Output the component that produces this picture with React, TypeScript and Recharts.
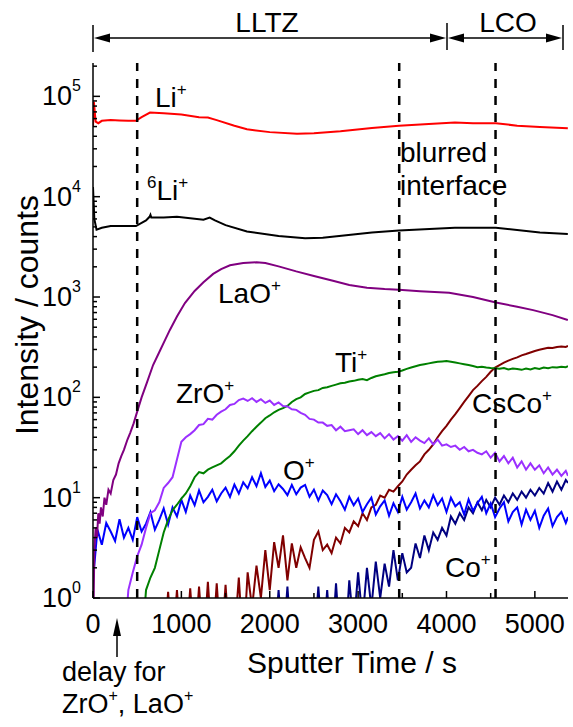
import React from 'react';
import { LineChart, Line, XAxis, YAxis, ReferenceLine } from 'recharts';

// Shared time grid (s) for the noisy series
const TIME = [
  0, 50, 100, 150, 200, 250, 300, 350, 400, 450,
  500, 550, 600, 650, 700, 750, 800, 850, 900, 950,
  1000, 1050, 1100, 1150, 1200, 1250, 1300, 1350, 1400, 1450,
  1500, 1550, 1600, 1650, 1700, 1750, 1800, 1850, 1900, 1950,
  2000, 2050, 2100, 2150, 2200, 2250, 2300, 2350, 2400, 2450,
  2500, 2550, 2600, 2650, 2700, 2750, 2800, 2850, 2900, 2950,
  3000, 3050, 3100, 3150, 3200, 3250, 3300, 3350, 3400, 3450,
  3500, 3550, 3600, 3650, 3700, 3750, 3800, 3850, 3900, 3950,
  4000, 4050, 4100, 4150, 4200, 4250, 4300, 4350, 4400, 4450,
  4500, 4550, 4600, 4650, 4700, 4750, 4800, 4850, 4900, 4950,
  5000, 5050, 5100, 5150, 5200, 5250, 5300, 5350, 5375,
];

const O_PLUS = [
  1.5, 4.8, 3.4, 5.6, 4.6, 3.7, 6.1, 4.0, 5.0, 3.8,
  6.4, 4.6, 5.5, 7.2, 4.8, 6.0, 7.8, 5.4, 8.0, 6.5,
  9.5, 7.2, 10.5, 8.4, 11.8, 9.0, 10.2, 12.0, 9.2, 11.0,
  12.6, 10.2, 13.5, 11.0, 14.2, 12.4, 16.0, 13.0, 17.5, 12.8,
  14.8, 11.6, 13.6, 12.2, 10.6, 13.4, 10.8, 12.6, 13.4, 10.2,
  12.0, 9.4, 11.8, 10.6, 8.6, 10.8, 9.2, 7.6, 10.2, 8.4,
  9.8, 7.2, 8.6, 10.0, 6.8, 8.2, 9.4, 6.6, 8.8, 7.2,
  10.2, 7.6, 9.0, 11.0, 7.8, 9.4, 8.0, 10.6, 8.4, 9.8,
  7.2, 10.0, 8.2, 9.0, 6.8, 9.6, 7.4, 8.8, 10.2, 7.0,
  8.8, 6.4, 7.8, 9.0, 5.8, 7.2, 8.0, 5.4, 7.6, 6.0,
  7.4, 5.0, 6.6, 7.8, 5.2, 6.4, 7.2, 5.6, 6.4,
];

const CO_PLUS = [
  null, null, null, null, null, null, null, null, null, null,
  null, null, null, null, null, null, null, null, null, null,
  null, null, null, null, null, null, null, null, null, null,
  null, null, null, null, null, null, null, null, null, null,
  0.3, 0.3, 1.2, 0.3, 1.3, 0.3, 0.3, 0.3, 0.3, 0.3,
  0.3, 1.3, 0.3, 1.2, 0.3, 1.4, 0.3, 0.3, 1.5, 0.5,
  1.8, 0.6, 2.0, 0.8, 2.3, 1.0, 2.2, 1.3, 3.0, 1.5,
  2.8, 1.8, 2.0, 3.5, 2.5, 4.2, 3.0, 4.5, 3.8, 5.0,
  4.2, 6.5, 5.5, 7.0, 6.0, 8.0, 7.0, 9.0, 7.5, 9.5,
  8.0, 10, 8.5, 10.5, 9.0, 11, 9.5, 11.5, 10, 12,
  10.5, 12.5, 11, 14, 11.5, 14.5, 12, 15, 14,
];

const CSCO_PLUS = [
  null, null, null, null, null, null, null, null, null, null,
  null, null, null, null, null, null, 0.3, 1.15, 0.3, 1.2,
  0.3, 0.3, 1.25, 0.3, 1.3, 0.3, 1.45, 0.3, 1.4, 0.3,
  1.35, 0.3, 0.4, 1.6, 0.3, 1.8, 0.8, 2.1, 1.0, 3.0,
  1.2, 3.6, 2.0, 4.2, 1.5, 3.5, 2.0, 3.2, 2.5, 2.0,
  3.8, 4.6, 3.0, 3.4, 2.8, 4.0, 3.5, 5.0, 4.5, 5.8,
  5.2, 7.0, 6.0, 8.0, 8.5, 10.5, 10, 12, 11.5, 13,
  14.5, 17, 19, 21, 23, 27, 30, 34, 40, 46,
  52, 60, 68, 78, 90, 103, 118, 130, 145, 160,
  180, 198, 210, 222, 232, 242, 250, 262, 270, 280,
  290, 298, 305, 312, 310, 318, 322, 318, 325,
];

const TI_PLUS = [
  null, null, null, null, null, null, null, null, null, null,
  null, 0.3, 1.2, 1.6, 2.0, 3.0, 4.5, 6.0, 7.5, 8.5,
  9.8, 11, 13, 16, 18, 17.5, 19, 20, 21, 22,
  24, 26, 29, 33, 37, 41, 46, 51, 56, 62,
  66, 71, 75, 78, 82, 90, 96, 100, 108, 112,
  116, 118, 124, 126, 130, 134, 138, 140, 144, 146,
  150, 152, 148, 156, 162, 166, 170, 175, 178, 180,
  185, 192, 198, 204, 210, 214, 218, 222, 226, 228,
  230, 226, 222, 218, 214, 210, 205, 200, 202, 198,
  196, 195, 193, 196, 190, 194, 192, 188, 194, 190,
  196, 192, 198, 195, 200, 198, 202, 200, 204,
];

const ZRO_PLUS = [
  null, null, null, null, null, null, null, 0.3, 1.2, 1.8,
  2.6, 3.4, 5.0, 7.0, 7.5, 9.0, 12.5, 14, 16, 24,
  36, 40, 43, 47, 53, 54, 61, 60, 67, 72,
  76, 84, 86, 94, 97, 92, 98, 90, 96, 88,
  93, 84, 89, 82, 81, 76, 75, 70, 67, 61,
  60, 56, 56, 52, 53, 47, 51, 46, 47, 48,
  43, 47, 42, 45, 41, 44, 39, 43, 38, 41,
  37, 42, 36, 40, 37, 35, 39, 34, 38, 33,
  34, 32, 33, 30, 32, 29, 30, 28, 27, 29,
  25, 28, 23, 26, 22, 25, 20, 23, 19, 22,
  19, 21, 17.5, 20, 17, 19, 16.5, 18.5, 16.5,
];

// Smooth series: [time, counts]
const LI_PLUS = [
  [0, 50000], [10, 88000], [30, 56000], [60, 54000], [100, 57000], [200, 58000],
  [300, 57500], [400, 57000], [486, 57000], [550, 62000], [645, 69000], [800, 68000],
  [1000, 66000], [1200, 62000], [1300, 61500], [1400, 58000], [1600, 51000],
  [1742, 47000], [2000, 44000], [2308, 42500], [2500, 43000], [2800, 45000],
  [3156, 48500], [3462, 51000], [3800, 53000], [4095, 55000], [4300, 54000],
  [4559, 54000], [4800, 51000], [5057, 49500], [5373, 48000],
];

const LI6_PLUS = [
  [0, 12500], [15, 6000], [40, 4700], [100, 4900], [200, 5100], [486, 5100],
  [600, 5800], [640, 6300], [650, 6600], [660, 6200], [800, 6200], [950, 6300],
  [1250, 5900], [1320, 6200], [1380, 5800], [1500, 5200], [1742, 4500], [2100, 4050],
  [2400, 3850], [2600, 3900], [3156, 4400], [3462, 4600], [4095, 4900], [4559, 4900],
  [5057, 4400], [5373, 4250],
];

const LAO_PLUS = [
  [0, 0.3], [15, 3], [30, 5], [45, 4], [60, 7], [75, 5.5], [90, 8], [110, 6.5],
  [130, 10], [150, 8.5], [175, 12], [200, 11], [230, 15], [260, 17], [290, 22],
  [320, 26], [350, 30], [390, 38], [420, 44], [460, 55], [500, 72], [550, 100],
  [610, 140], [680, 210], [760, 295], [820, 380], [870, 470], [950, 640], [1040, 870],
  [1150, 1150], [1250, 1400], [1360, 1700], [1450, 1900], [1550, 2070], [1700, 2180],
  [1850, 2220], [1950, 2180], [2100, 2020], [2300, 1800], [2500, 1620], [2715, 1450],
  [2900, 1320], [3100, 1240], [3300, 1200], [3462, 1180], [3700, 1140], [4030, 1100],
  [4300, 1000], [4559, 880], [4800, 800], [4980, 740], [5200, 660], [5373, 590],
];

const X_TICKS = [0, 500, 1000, 1500, 2000, 2500, 3000, 3500, 4000, 4500, 5000];
const X_LABELED = [0, 1000, 2000, 3000, 4000, 5000];
const Y_TICKS = [
  1, 2, 3, 4, 5, 6, 7, 8, 9,
  10, 20, 30, 40, 50, 60, 70, 80, 90,
  100, 200, 300, 400, 500, 600, 700, 800, 900,
  1000, 2000, 3000, 4000, 5000, 6000, 7000, 8000, 9000,
  10000, 20000, 30000, 40000, 50000, 60000, 70000, 80000, 90000,
  100000, 200000,
];
const Y_LABELED = [1, 10, 100, 1000, 10000, 100000];
const DASHED_TIMES = [500, 3465, 4555];

const FONT = 'Arial, "Liberation Sans", sans-serif';

const fromGrid = (arr: (number | null)[]) =>
  TIME.map((t, i) => ({ t, v: arr[i] })).filter((d) => d.v !== null);
const fromPairs = (arr: number[][]) => arr.map(([t, v]) => ({ t, v }));

const BottomTick = (props: any) => {
  const { x, y, payload } = props;
  const major = X_LABELED.includes(payload.value);
  return (
    <g>
      <line x1={x} y1={y} x2={x} y2={y - (major ? 7 : 5)} stroke="#000" strokeWidth={1.5} />
      {major && (
        <text x={x} y={y + 35} textAnchor="middle" fontSize={27} fontFamily={FONT} fill="#000">
          {payload.value}
        </text>
      )}
    </g>
  );
};

const TopTick = (props: any) => {
  const { x, y, payload } = props;
  const major = X_LABELED.includes(payload.value);
  return <line x1={x} y1={y} x2={x} y2={y + (major ? 7 : 5)} stroke="#000" strokeWidth={1.5} />;
};

const LeftTick = (props: any) => {
  const { x, y, payload } = props;
  const major = Y_LABELED.includes(payload.value);
  const exp = Math.round(Math.log10(payload.value));
  return (
    <g>
      <line x1={x} y1={y} x2={x + (major ? 7 : 4)} y2={y} stroke="#000" strokeWidth={1.5} />
      {major && (
        <text x={x - 12} y={y + 9} textAnchor="end" fontSize={27} fontFamily={FONT} fill="#000">
          10
          <tspan dy={-14} fontSize={16}>{exp}</tspan>
        </text>
      )}
    </g>
  );
};

const RightTick = (props: any) => {
  const { x, y, payload } = props;
  const major = Y_LABELED.includes(payload.value);
  return <line x1={x} y1={y} x2={x - (major ? 7 : 4)} y2={y} stroke="#000" strokeWidth={1.5} />;
};

const Sup = ({ x, y, base, sup, pre, size = 28 }: any) => (
  <text x={x} y={y} fontSize={size} fontFamily={FONT} fill="#000">
    {pre && <tspan fontSize={17} dy={-12}>{pre}</tspan>}
    <tspan dy={pre ? 12 : 0}>{base}</tspan>
    {sup && <tspan fontSize={17} dy={-12}>{sup}</tspan>}
  </text>
);

const SERIES = [
  { name: 'Co+', data: fromGrid(CO_PLUS), color: '#000080' },
  { name: 'CsCo+', data: fromGrid(CSCO_PLUS), color: '#800000' },
  { name: 'O+', data: fromGrid(O_PLUS), color: '#0000FF' },
  { name: 'Ti+', data: fromGrid(TI_PLUS), color: '#008000' },
  { name: 'ZrO+', data: fromGrid(ZRO_PLUS), color: '#9B30FF' },
  { name: 'LaO+', data: fromPairs(LAO_PLUS), color: '#800080' },
  { name: '6Li+', data: fromPairs(LI6_PLUS), color: '#000000' },
  { name: 'Li+', data: fromPairs(LI_PLUS), color: '#FF0000' },
];

export default function App() {
  return (
    <div style={{ position: 'absolute', left: 0, top: 0, width: 573, height: 727, background: '#fff' }}>
      <LineChart width={573} height={727} margin={{ top: 63, right: 5, bottom: 89, left: 33 }}>
        <XAxis
          xAxisId="b"
          dataKey="t"
          type="number"
          domain={[0, 5375]}
          ticks={X_TICKS}
          interval={0}
          allowDataOverflow
          height={40}
          tickSize={0}
          tickMargin={0}
          tickLine={false}
          axisLine={{ stroke: '#000', strokeWidth: 1.5 }}
          tick={(p: any) => <BottomTick {...p} />}
        />
        <XAxis
          xAxisId="t"
          orientation="top"
          dataKey="t"
          type="number"
          domain={[0, 5375]}
          ticks={X_TICKS}
          interval={0}
          allowDataOverflow
          height={0}
          tickSize={0}
          tickMargin={0}
          tickLine={false}
          axisLine={{ stroke: '#000', strokeWidth: 1.5 }}
          tick={(p: any) => <TopTick {...p} />}
        />
        <YAxis
          yAxisId="l"
          type="number"
          scale="log"
          domain={[1, 215000]}
          ticks={Y_TICKS}
          interval={0}
          allowDataOverflow
          width={60}
          tickSize={0}
          tickMargin={0}
          tickLine={false}
          axisLine={{ stroke: '#000', strokeWidth: 1.5 }}
          tick={(p: any) => <LeftTick {...p} />}
        />
        <YAxis
          yAxisId="r"
          orientation="right"
          type="number"
          scale="log"
          domain={[1, 215000]}
          ticks={Y_TICKS}
          interval={0}
          allowDataOverflow
          width={0}
          tickSize={0}
          tickMargin={0}
          tickLine={false}
          axisLine={{ stroke: '#000', strokeWidth: 1.5 }}
          tick={(p: any) => <RightTick {...p} />}
        />
        {SERIES.map((s) => (
          <Line
            key={s.name}
            xAxisId="b"
            yAxisId="l"
            data={s.data}
            dataKey="v"
            type="linear"
            stroke={s.color}
            strokeWidth={2}
            dot={false}
            activeDot={false}
            connectNulls={false}
            isAnimationActive={false}
          />
        ))}
        {DASHED_TIMES.map((t) => (
          <ReferenceLine
            key={t}
            x={t}
            xAxisId="b"
            yAxisId="l"
            stroke="#000"
            strokeWidth={2.5}
            strokeDasharray="9 8"
          />
        ))}
      </LineChart>
      <svg
        width={573}
        height={727}
        style={{ position: 'absolute', left: 0, top: 0, pointerEvents: 'none' }}
      >
        <g fontFamily={FONT} fill="#000">
          {/* top region brackets */}
          <line x1={93} y1={25} x2={93} y2={52} stroke="#000" strokeWidth={1.5} />
          <line x1={447} y1={23} x2={447} y2={50} stroke="#000" strokeWidth={1.5} />
          <line x1={563} y1={25} x2={563} y2={50} stroke="#000" strokeWidth={1.5} />
          <line x1={100} y1={38} x2={440} y2={38} stroke="#000" strokeWidth={1.5} />
          <polygon points="94,38 110,33.5 110,42.5" fill="#000" />
          <polygon points="446,38 430,33.5 430,42.5" fill="#000" />
          <line x1={455} y1={38} x2={555} y2={38} stroke="#000" strokeWidth={1.5} />
          <polygon points="448,38 464,33.5 464,42.5" fill="#000" />
          <polygon points="562,38 546,33.5 546,42.5" fill="#000" />
          <text x={267} y={32} textAnchor="middle" fontSize={28}>LLTZ</text>
          <text x={508} y={32} textAnchor="middle" fontSize={28}>LCO</text>

          {/* in-plot labels */}
          <Sup x={155} y={107} base="Li" sup="+" />
          <Sup x={147} y={200} base="Li" sup="+" pre="6" />
          <text x={400} y={162} fontSize={28}>blurred</text>
          <text x={400} y={195} fontSize={28}>interface</text>
          <Sup x={218} y={303} base="LaO" sup="+" />
          <Sup x={176} y={403} base="ZrO" sup="+" />
          <Sup x={335} y={372} base="Ti" sup="+" />
          <Sup x={283} y={480} base="O" sup="+" />
          <Sup x={472} y={413} base="CsCo" sup="+" />
          <Sup x={445} y={577} base="Co" sup="+" />

          {/* axis titles */}
          <text x={352} y={673} textAnchor="middle" fontSize={30}>Sputter Time / s</text>
          <text transform="translate(38,315) rotate(-90)" textAnchor="middle" fontSize={32}>
            Intensity / counts
          </text>

          {/* delay annotation */}
          <line x1={117} y1={657} x2={117} y2={632} stroke="#000" strokeWidth={1.5} />
          <polygon points="117,618 113,636 121,636" fill="#000" />
          <text x={62} y={681} fontSize={27}>delay for</text>
          <text x={62} y={713} fontSize={27}>
            ZrO<tspan fontSize={16} dy={-12}>+</tspan>
            <tspan dy={12}>, LaO</tspan>
            <tspan fontSize={16} dy={-12}>+</tspan>
          </text>
        </g>
      </svg>
    </div>
  );
}
